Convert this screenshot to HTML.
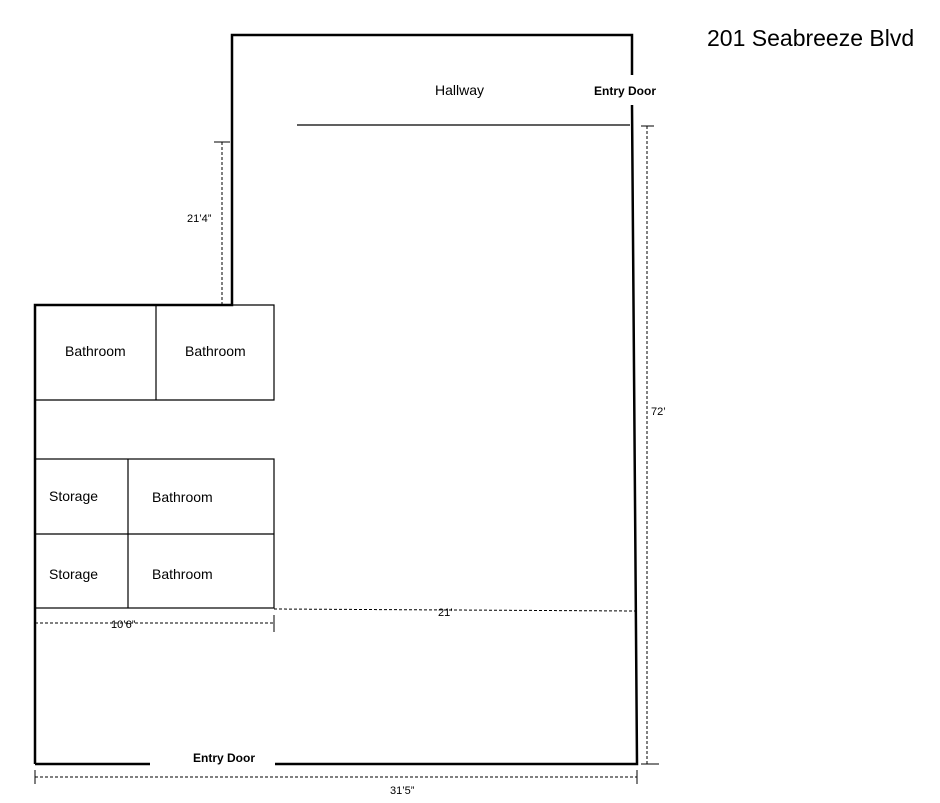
<!DOCTYPE html>
<html><head><style>
body{margin:0;background:#fff;}
svg{display:block;font-family:"Liberation Sans",sans-serif;}
</style></head><body>
<svg width="940" height="803" viewBox="0 0 940 803" xmlns="http://www.w3.org/2000/svg">
<g stroke="#000" fill="none">
<polyline points="35,764 35,305 232,305 232,35 632,35 632,75" stroke-width="2.5"/>
<polyline points="632,105 635,500 637,764 275,764" stroke-width="2.5"/>
<line x1="35" y1="764" x2="150" y2="764" stroke-width="2.5"/>
<line x1="297" y1="125" x2="630" y2="125" stroke-width="1.3"/>
<g stroke-width="1.2">
<polyline points="232,305 274,305 274,400 35,400"/>
<line x1="156" y1="305" x2="156" y2="400"/>
<rect x="35" y="459" width="239" height="149"/>
<line x1="35" y1="534" x2="274" y2="534"/>
<line x1="128" y1="459" x2="128" y2="608"/>
</g>
<g stroke-width="1" stroke-dasharray="3,2">
<line x1="222" y1="142" x2="222" y2="305"/>
<line x1="647" y1="126" x2="647" y2="764"/>
<line x1="274" y1="609" x2="635" y2="611"/>
<line x1="35" y1="623" x2="274" y2="623"/>
<line x1="35" y1="777" x2="637" y2="777"/>
</g>
<g stroke-width="1">
<line x1="214" y1="142" x2="230" y2="142"/>
<line x1="641" y1="126" x2="654" y2="126"/>
<line x1="641" y1="764" x2="659" y2="764"/>
<line x1="274" y1="615" x2="274" y2="632"/>
<line x1="35" y1="770" x2="35" y2="784"/>
<line x1="637" y1="770" x2="637" y2="784"/>
</g>
</g>
<g fill="#000">
<text x="707" y="46" font-size="23">201 Seabreeze Blvd</text>
<text x="435" y="95" font-size="14">Hallway</text>
<text x="594" y="95" font-size="12" font-weight="bold">Entry Door</text>
<text x="193" y="762" font-size="12" font-weight="bold">Entry Door</text>
<text x="65" y="356" font-size="14">Bathroom</text>
<text x="185" y="356" font-size="14">Bathroom</text>
<text x="49" y="501" font-size="14">Storage</text>
<text x="152" y="502" font-size="14">Bathroom</text>
<text x="49" y="579" font-size="14">Storage</text>
<text x="152" y="579" font-size="14">Bathroom</text>
<text x="187" y="222" font-size="11">21’4”</text>
<text x="651" y="415" font-size="11">72’</text>
<text x="438" y="616" font-size="11">21’</text>
<text x="111" y="628" font-size="11">10’6”</text>
<text x="390" y="794" font-size="11">31’5”</text>
</g>
</svg>
</body></html>
